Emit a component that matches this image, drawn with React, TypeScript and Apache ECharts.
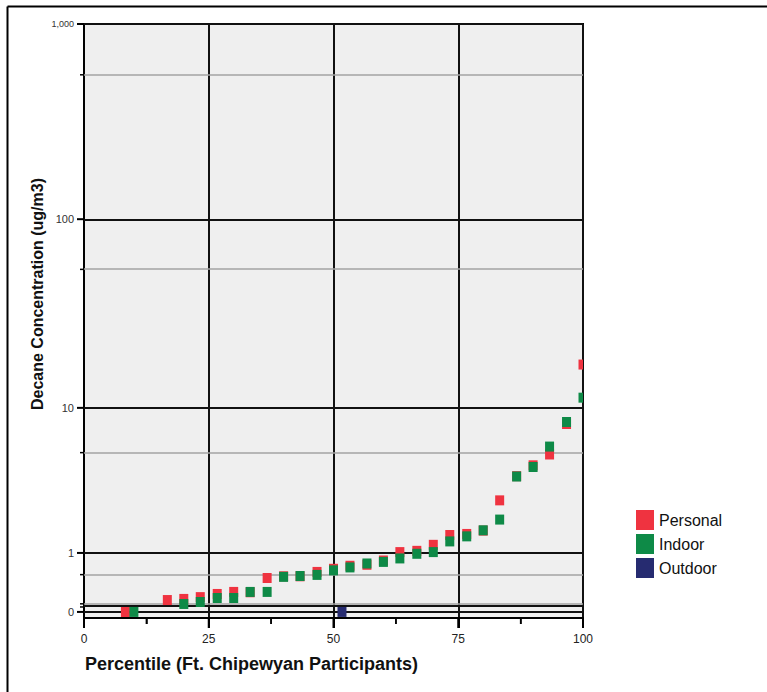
import React, { useEffect, useRef } from "react";
import * as echarts from "echarts";

// ---- Data ----
const personalPct = [8.3, 16.7, 20, 23.3, 26.7, 30, 33.3, 36.7, 40, 43.3, 46.7, 50, 53.3, 56.7, 60, 63.3, 66.7, 70, 73.3, 76.7, 80, 83.3, 86.7, 90, 93.3, 96.7, 100];
const personalConc = [0, 0.15, 0.165, 0.19, 0.235, 0.265, 0.26, 0.49, 0.52, 0.52, 0.6, 0.66, 0.72, 0.74, 0.83, 1.02, 1.05, 1.2, 1.47, 1.5, 1.6, 2.71, 3.93, 4.6, 5.36, 8.1, 17.3];

const indoorPct = [10, 20, 23.3, 26.7, 30, 33.3, 36.7, 40, 43.3, 46.7, 50, 53.3, 56.7, 60, 63.3, 66.7, 70, 73.3, 76.7, 80, 83.3, 86.7, 90, 93.3, 96.7, 100];
const indoorConc = [0, 0.098, 0.124, 0.178, 0.178, 0.265, 0.265, 0.51, 0.525, 0.545, 0.63, 0.687, 0.767, 0.8, 0.875, 0.98, 1.02, 1.29, 1.43, 1.61, 1.96, 3.91, 4.49, 5.98, 8.32, 11.4];

const outdoorPct = [51.7];
const outdoorConc = [0];

const yTickValues = [0, 1, 10, 100, 1000];
const yTickLabels = ["0", "1", "10", "100", "1,000"];
const yBlackLines = [0, 0.06, 1, 10, 100, 1000];
const yGrayLines = [0.1, 0.55, 5.5, 55, 550];
const yMinorTicks = [0.06, 0.1, 0.55, 5.5, 55, 550];

const xMajorTicks = [0, 25, 50, 75, 100];
const xMinorTicks = [12.5, 37.5, 62.5, 87.5];

const seriesNames = ["Personal", "Indoor", "Outdoor"];
const seriesColors = ["#ef3340", "#0e8a47", "#262b70"];

// scale: log10(value + 1)
const tf = (v: number) => Math.log10(v + 1);
const Y_MAX = tf(1000);
const Y_MIN = -0.031;
const X_MIN = 0;
const X_MAX = 100;

const W = 767;
const H = 692;
const GRID = { left: 84, right: 184, top: 24, bottom: 74 };

const FONT = "'Liberation Sans', Arial, Helvetica, sans-serif";
const NARROW = "'Liberation Sans Narrow', 'Liberation Sans', Arial, sans-serif";

function makeRender(color: string) {
  return (params: any, api: any) => {
    const p = api.coord([api.value(0), api.value(1)]);
    const w = 9;
    const h = 10;
    const cs = params.coordSys;
    const rect = echarts.graphic.clipRectByRect(
      { x: p[0] - w / 2, y: p[1] - h / 2, width: w, height: h },
      { x: cs.x, y: cs.y, width: cs.width, height: cs.height }
    );
    if (!rect) return null;
    return { type: "rect", shape: rect, style: { fill: color } };
  };
}

// axis decoration (tick marks) placed along the grid edges
const plotW = W - GRID.left - GRID.right;
const plotH = H - GRID.top - GRID.bottom;
const tickX = (v: number) => GRID.left + ((v - X_MIN) / (X_MAX - X_MIN)) * plotW;
const tickY = (t: number) => GRID.top + ((Y_MAX - t) / (Y_MAX - Y_MIN)) * plotH;
const axisBottom = H - GRID.bottom;
const vTick = (x: number, len: number, w: number) => ({
  type: "rect",
  shape: { x: x - w / 2, y: axisBottom, width: w, height: len },
  style: { fill: "#000" },
});
const hTick = (y: number, len: number, w: number) => ({
  type: "rect",
  shape: { x: GRID.left - len, y: y - w / 2, width: len, height: w },
  style: { fill: "#000" },
});

export default function App() {
  const ref = useRef<HTMLDivElement>(null);
  useEffect(() => {
    if (!ref.current) return;
    const chart = echarts.init(ref.current, null, { renderer: "svg" });
    const datasets = [
      personalPct.map((p, i) => [p, tf(personalConc[i])]),
      indoorPct.map((p, i) => [p, tf(indoorConc[i])]),
      outdoorPct.map((p, i) => [p, tf(outdoorConc[i])]),
    ];
    const tickGraphics = [
      ...xMajorTicks.map((v) => vTick(tickX(v), 10, 2)),
      ...xMinorTicks.map((v) => vTick(tickX(v), 6, 1.5)),
      ...yTickValues.map((v) => hTick(tickY(tf(v)), 7, 2)),
      ...yMinorTicks.map((v) => hTick(tickY(tf(v)), 4, 1.5)),
    ];
    const option: any = {
      animation: false,
      backgroundColor: "#ffffff",
      textStyle: { fontFamily: FONT },
      grid: {
        left: GRID.left,
        right: GRID.right,
        top: GRID.top,
        bottom: GRID.bottom,
        show: true,
        backgroundColor: "#efefef",
        borderColor: "#000",
        borderWidth: 2,
      },
      legend: {
        data: seriesNames,
        orient: "vertical",
        left: 636,
        top: 510,
        padding: 0,
        itemWidth: 18,
        itemHeight: 20,
        itemGap: 4,
        icon: "rect",
        selectedMode: false,
        textStyle: { fontSize: 16, color: "#111", fontFamily: FONT },
      },
      xAxis: {
        type: "value",
        min: X_MIN,
        max: X_MAX,
        interval: 25,
        axisLine: { show: true, onZero: false, lineStyle: { color: "#000", width: 2 } },
        axisTick: { show: true, length: 10, lineStyle: { color: "#000", width: 2 } },
        minorTick: { show: true, splitNumber: 2, length: 6, lineStyle: { color: "#000", width: 1.5 } },
        axisLabel: { fontSize: 12, margin: 15, color: "#222", fontFamily: NARROW },
        splitLine: { show: true, lineStyle: { color: "#111", width: 2 } },
      },
      yAxis: {
        type: "value",
        min: Y_MIN,
        max: Y_MAX,
        position: "left",
        axisLine: { show: true, onZero: false, lineStyle: { color: "#000", width: 2 } },
        axisTick: { show: false },
        axisLabel: {
          customValues: yTickValues.map(tf),
          margin: 10,
          fontSize: 11,
          color: "#333",
          fontFamily: FONT,
          formatter: (v: number) => {
            const idx = yTickValues.findIndex((t) => Math.abs(tf(t) - v) < 1e-6);
            if (idx < 0) return "";
            return idx === yTickValues.length - 1 ? "{s|" + yTickLabels[idx] + "}" : yTickLabels[idx];
          },
          rich: { s: { fontSize: 9, color: "#333", fontFamily: FONT } },
        },
        splitLine: { show: false },
      },
      graphic: [
        { type: "line", shape: { x1: 7.5, y1: 6.5, x2: 767, y2: 6.5 }, style: { stroke: "#000", lineWidth: 2 } },
        { type: "line", shape: { x1: 7.5, y1: 6.5, x2: 7.5, y2: 692 }, style: { stroke: "#000", lineWidth: 2 } },
        {
          type: "text",
          x: 37,
          y: 294,
          rotation: Math.PI / 2,
          style: {
            text: "Decane Concentration (ug/m3)",
            font: "bold 16px " + FONT,
            fill: "#111",
            align: "center",
            verticalAlign: "middle",
          },
        },
        {
          type: "text",
          x: 85,
          y: 664,
          style: {
            text: "Percentile (Ft. Chipewyan Participants)",
            font: "bold 18px " + FONT,
            fill: "#111",
            align: "left",
            verticalAlign: "middle",
          },
        },
        ...tickGraphics,
      ],
      series: [
        {
          type: "line",
          name: "gridlines",
          data: [],
          silent: true,
          z: 2,
          markLine: {
            silent: true,
            symbol: ["none", "none"],
            label: { show: false },
            data: [
              ...yGrayLines.map((v) => ({ yAxis: tf(v), lineStyle: { color: "#a3a3a3", width: 1.5, type: "solid" } })),
              ...yBlackLines.map((v) => ({ yAxis: tf(v), lineStyle: { color: "#111", width: 2, type: "solid" } })),
            ],
          },
        },
        ...seriesNames.map((name, k) => ({
          type: "custom",
          name,
          coordinateSystem: "cartesian2d",
          data: datasets[k],
          encode: { x: 0, y: 1 },
          itemStyle: { color: seriesColors[k] },
          renderItem: makeRender(seriesColors[k]),
          z: 5,
        })),
      ],
    };
    chart.setOption(option);
    return () => chart.dispose();
  }, []);
  return (
    <div
      ref={ref}
      style={{ position: "absolute", left: 0, top: 0, width: W, height: H }}
    />
  );
}
